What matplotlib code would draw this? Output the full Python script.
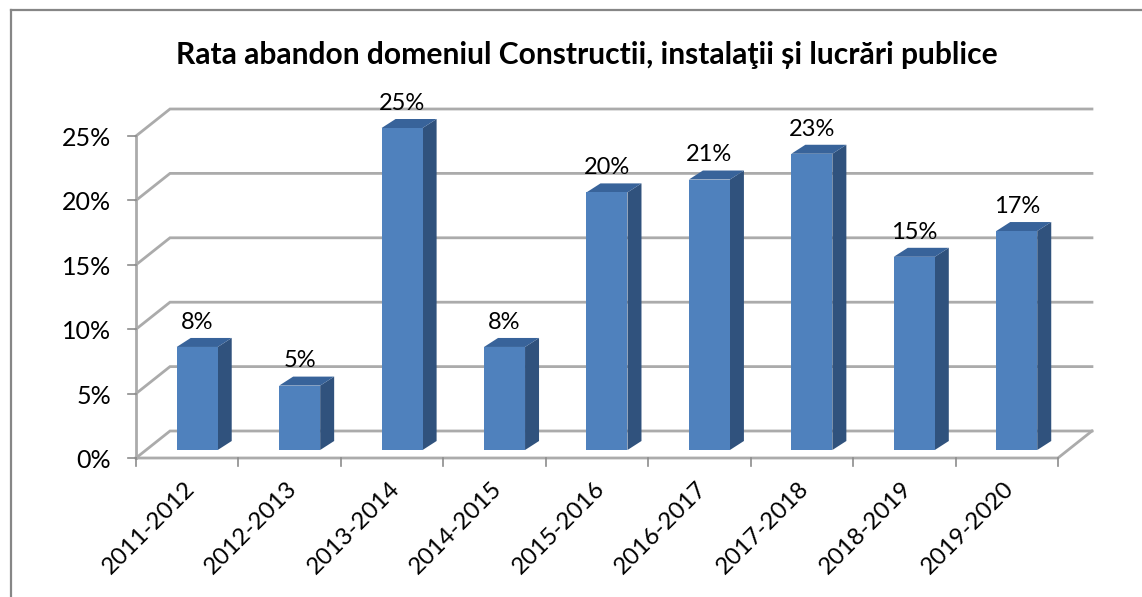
import matplotlib; matplotlib.use("Agg")
import matplotlib.pyplot as plt
from matplotlib.patches import Polygon, Rectangle

categories = ["2011-2012", "2012-2013", "2013-2014", "2014-2015", "2015-2016",
              "2016-2017", "2017-2018", "2018-2019", "2019-2020"]
values = [8, 5, 25, 8, 20, 21, 23, 15, 17]
y_ticks = [0, 5, 10, 15, 20, 25]
title = "Rata abandon domeniul Constructii, instalaţii și lucrări publice"

W, H = 1142, 597
PX_X = 102.44            # pixels per category
PX_Y = 12.88             # pixels per percent
X0, Y0 = 136, 458        # pixel position of the origin

# 3d look, all in data units
WALL_DX, WALL_DY = 34 / PX_X, 27 / PX_Y
BAR_W = 41 / PX_X
BAR_OX, BAR_OY = 10 / PX_X, 8 / PX_Y
BAR_DX, BAR_DY = 14 / PX_X, 9 / PX_Y

GRID = "#ABABAB"
AXIS = "#8C8C8C"
FRONT, SIDE, TOP = "#4F81BD", "#30527D", "#38639A"

plt.rcParams["font.family"] = ["Lato", "DejaVu Sans"]

fig = plt.figure(figsize=(W / 100, H / 100), dpi=100)
ax = fig.add_axes([0, 0, 1, 1])
ax.set_xlim(-X0 / PX_X, (W - X0) / PX_X)
ax.set_ylim((Y0 - H) / PX_Y, Y0 / PX_Y)
ax.axis("off")

# outer chart frame (no right or bottom edge in the picture)
ax.plot([(10.5 - X0) / PX_X, (10.5 - X0) / PX_X], [(Y0 - H) / PX_Y, (Y0 - 10) / PX_Y],
        color="#868686", lw=1.6, zorder=1)
ax.plot([(10.5 - X0) / PX_X, (W - X0) / PX_X], [(Y0 - 10) / PX_Y, (Y0 - 10) / PX_Y],
        color="#868686", lw=1.6, zorder=1)

# back wall grid and left diagonals
n = len(categories)
for t in y_ticks:
    ax.plot([0, WALL_DX, n + WALL_DX], [t, t + WALL_DY, t + WALL_DY],
            color=GRID, lw=2, zorder=2, solid_joinstyle="miter")

# floor
ax.plot([0, n, n + WALL_DX], [0, 0, WALL_DY], color=GRID, lw=2, zorder=2)

# axes lines and ticks
ax.plot([0, 0], [0, y_ticks[-1]], color=GRID, lw=2, zorder=2)
for t in y_ticks:
    ax.plot([-8 / PX_X, 0], [t, t], color=AXIS, lw=1.2, zorder=2)
    ax.text(-25 / PX_X, t - 2.5 / PX_Y, f"{t}%", ha="right", va="center",
            fontsize=18, color="black")
for i in range(n + 1):
    ax.plot([i, i], [0, -8 / PX_Y], color=AXIS, lw=1.2, zorder=2)

# bars
for i, (cat, v) in enumerate(zip(categories, values)):
    x = i + 0.5 - BAR_W / 2 + BAR_OX
    y = BAR_OY
    ax.add_patch(Rectangle((x, y), BAR_W, v, fc=FRONT, ec="none", zorder=4))
    ax.add_patch(Polygon([(x + BAR_W, y), (x + BAR_W + BAR_DX, y + BAR_DY),
                          (x + BAR_W + BAR_DX, y + v + BAR_DY), (x + BAR_W, y + v)],
                         fc=SIDE, ec="none", zorder=3))
    ax.add_patch(Polygon([(x, y + v), (x + BAR_DX, y + v + BAR_DY),
                          (x + BAR_W + BAR_DX, y + v + BAR_DY), (x + BAR_W, y + v)],
                         fc=TOP, ec="none", zorder=3))
    ax.text(x + BAR_W / 2, y + v + 1.1, f"{v}%", ha="center", va="bottom",
            fontsize=17, color="black", zorder=5)
    ax.text(i + 0.5 + 4 / PX_X, -27 / PX_Y, cat, rotation=45, rotation_mode="anchor",
            ha="right", va="center", fontsize=17.3, color="black")

ax.text((587 - X0) / PX_X, (Y0 - 55) / PX_Y, title, ha="center", va="center",
        fontsize=21.6, fontweight="bold", color="black")

fig.savefig("out.png", dpi=100)
plt.close()
